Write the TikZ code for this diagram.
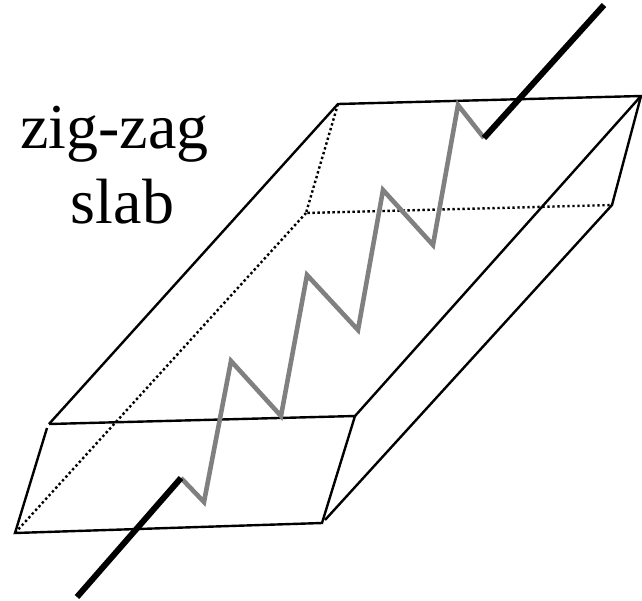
\documentclass[tikz,border=0pt]{standalone}
\usepackage{fontspec}
\setmainfont{Liberation Serif}
\tikzset{edge/.style={line width=2.4pt,line join=miter,line cap=butt},
hid/.style={line width=2.4pt,line cap=butt,dash pattern=on 2.4pt off 2.6pt},
zig/.style={line width=4.6pt,draw=black!50,line join=miter},
lead/.style={line width=6pt,draw=black},
lbl/.style={font=\fontsize{64}{64}\selectfont,inner sep=0pt,anchor=base}}
\begin{document}
\begin{tikzpicture}[x=1pt,y=-1pt]
\useasboundingbox (0,0) rectangle (642,600);
\foreach \n/\x/\y in {a/338/104,b/641/96,c/612/205,d/306/213,e/49/424,f/355/416,g/322/523,h/15/533,e2/47/428,g2/325/520}
  \coordinate (\n) at (\x,\y);
\draw[hid] (a)--(d)--(c);
\draw[hid] (d)--(h);
\draw[edge] (e)--(a)--(b)--(f);
\draw[edge] (e)--(f)--(g)--(h)--(e2);
\draw[edge] (g2)--(c)--(b);
\coordinate (z0) at (181,478);
\coordinate (z9) at (484,138);
\draw[zig] (z0)--(204,502)--(231,361)--(281,416)--(307,275)--(358,330)--(383,190)--(433,245)--(458,105)--(z9);
\coordinate (l0) at (77,597);
\coordinate (l1) at (604,5);
\draw[lead] (l0)--(z0);
\draw[lead] (z9)--(l1);
\node[lbl] (t1) at (114.5,148) {zig-zag};
\node[lbl] (t2) at (122.5,223) {slab};
\end{tikzpicture}
\end{document}
